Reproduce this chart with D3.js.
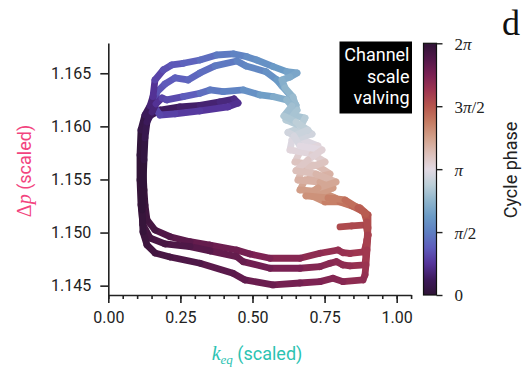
<!DOCTYPE html>
<html><head><meta charset="utf-8">
<script src="https://cdn.jsdelivr.net/npm/d3@7"></script>
<style>body{margin:0;background:#fff} svg{display:block}</style>
</head><body><svg id="c" width="528" height="368"></svg>
<script>
// Trajectory, three cycles: k_eq (scaled), Δp (scaled), cycle phase in turns (0..1 = 0..2π)
const cycle1K = [0.8034,0.8450,0.8935,0.9005,0.8935,0.8866,0.8381,0.8138,0.7965,0.7340,0.6647,0.5607,0.4913,0.4452,0.3526,0.2833,0.2139,0.1619,0.1342,0.1273,
  0.1238,0.1203,0.1168,0.1203,0.1307,0.1793,0.2486,0.3180,0.3873,0.4359,0.4497,0.4150,0.3180,0.2313,0.1793,0.1550,0.1689,0.1966,0.2313,0.2764,
  0.3180,0.3700,0.4463,0.4775,0.5468,0.5849,0.6023,0.6300,0.6508,
  0.6231,0.6820,0.6647,0.6231,0.6751,0.7271,0.6647,0.6474,0.7271,0.7687,0.6820,0.6647,0.7410,0.7861,0.8207,0.8727,0.9005,0.9005];
const cycle1P = [1.15053,1.15062,1.15072,1.14977,1.14883,1.14817,1.14803,1.14811,1.14836,1.14805,1.14758,1.14758,1.14798,1.14836,1.14883,1.14914,1.14961,1.15024,1.15119,1.15260,
  1.15401,1.15589,1.15778,1.15966,1.16079,1.16154,1.16183,1.16197,1.16230,1.16258,1.16220,1.16183,1.16145,1.16117,1.16107,1.16201,1.16324,1.16399,1.16456,1.16437,
  1.16503,1.16569,1.16616,1.16569,1.16515,1.16437,1.16380,1.16296,1.16201,
  1.16117,1.16079,1.15985,1.15943,1.15872,1.15815,1.15759,1.15665,1.15627,1.15552,1.15495,1.15401,1.15382,1.15326,1.15279,1.15232,1.15166,1.15043];
const cycle1Phase = [0.770,0.775,0.780,0.790,0.800,0.810,0.820,0.825,0.830,0.840,0.855,0.870,0.885,0.895,0.910,0.925,0.940,0.960,0.970,0.980,
  0.990,0.998,0.010,0.030,0.050,0.065,0.075,0.085,0.095,0.105,0.115,0.125,0.135,0.145,0.155,0.165,0.175,0.185,0.195,0.205,
  0.220,0.240,0.260,0.270,0.290,0.310,0.330,0.360,0.390,
  0.410,0.430,0.450,0.470,0.490,0.510,0.530,0.550,0.570,0.590,0.610,0.630,0.650,0.670,0.700,0.730,0.760,0.780];

const cycle2K = [0.8970,0.8935,0.8901,0.8381,0.8138,0.7920,0.7687,0.7340,0.6647,0.5607,0.4671,0.4452,0.3526,0.2833,0.1966,0.1446,0.1203,0.1134,0.1099,0.1099,
  0.1134,0.1273,0.1446,0.1550,0.1619,0.1907,0.2198,0.2601,0.3180,0.3759,0.4334,0.4799,0.5146,0.5721,0.6186,0.6543,0.6300,0.6023,0.6127,0.6404,0.6543,
  0.6162,0.6647,0.7063,0.6370,0.6300,0.7063,0.7514,0.6716,0.6578,0.7340,0.7791,0.7063,0.7514,0.8034,0.8450,0.8866,0.8970];
const cycle2P = [1.14930,1.14789,1.14695,1.14686,1.14695,1.14726,1.14711,1.14679,1.14664,1.14664,1.14726,1.14773,1.14827,1.14867,1.14893,1.14949,1.15072,1.15260,1.15495,1.15731,
  1.15966,1.16107,1.16192,1.16280,1.16437,1.16531,1.16578,1.16594,1.16625,1.16672,1.16682,1.16656,1.16625,1.16562,1.16515,1.16503,1.16465,1.16437,1.16362,1.16277,1.16154,
  1.16060,1.16004,1.15928,1.15872,1.15778,1.15740,1.15665,1.15589,1.15495,1.15476,1.15420,1.15345,1.15288,1.15288,1.15250,1.15194,1.15100];
const cycle2Phase = [0.800,0.815,0.825,0.835,0.840,0.845,0.850,0.860,0.875,0.890,0.905,0.910,0.930,0.945,0.955,0.965,0.975,0.985,0.995,0.010,
  0.030,0.060,0.090,0.120,0.150,0.170,0.180,0.200,0.220,0.240,0.260,0.280,0.290,0.310,0.330,0.340,0.350,0.360,0.375,0.390,0.410,
  0.430,0.450,0.470,0.490,0.510,0.530,0.550,0.570,0.590,0.610,0.630,0.650,0.680,0.700,0.725,0.750,0.770];

const cycle3K = [0.9005,0.8970,0.8935,0.8901,0.8831,0.8138,0.7791,0.7340,0.6647,0.5711,0.4740,0.4324,0.3180,0.2139,0.1619,0.1342,0.1203,0.1168,0.1203,0.1238,
  0.1273,0.1342,0.1515,0.1654,0.1862,0.2025,0.2601,0.3180,0.3526,0.3988,0.4681,0.5260,0.5721,0.6186,0.6370,
  0.6092,0.6508,0.6924,0.6439,0.6647,0.7410,0.6924,0.6508,0.7202,0.7895,0.7271,0.6855,0.7618,0.8207,0.8658,0.8935];
const cycle3P = [1.14977,1.14836,1.14695,1.14601,1.14554,1.14538,1.14570,1.14538,1.14525,1.14507,1.14554,1.14617,1.14711,1.14770,1.14808,1.14883,1.15006,1.15213,1.15448,1.15684,
  1.15891,1.16041,1.16136,1.16211,1.16267,1.16249,1.16280,1.16312,1.16343,1.16327,1.16343,1.16296,1.16280,1.16249,1.16192,
  1.16098,1.16041,1.15966,1.15910,1.15815,1.15778,1.15684,1.15582,1.15552,1.15476,1.15420,1.15345,1.15326,1.15307,1.15232,1.15175];
const cycle3Phase = [0.790,0.805,0.820,0.830,0.840,0.855,0.860,0.870,0.885,0.900,0.915,0.925,0.945,0.955,0.965,0.975,0.985,0.995,0.005,0.020,
  0.040,0.060,0.090,0.120,0.150,0.160,0.190,0.220,0.240,0.260,0.290,0.320,0.350,0.380,0.400,
  0.420,0.440,0.460,0.480,0.500,0.520,0.540,0.560,0.580,0.610,0.630,0.650,0.680,0.710,0.740,0.760];

const xTicks = [0, 0.25, 0.5, 0.75, 1.0];
const yTicks = [1.145, 1.150, 1.155, 1.160, 1.165];
const phaseTicks = [0, Math.PI/2, Math.PI, 3*Math.PI/2, 2*Math.PI];
const phaseTickLabels = ["0", "π/2", "π", "3π/2", "2π"];
// twilight_shifted-like colormap stops (0 .. 2π, evenly spaced)
const cmapStops = ["#2f1436","#3d1a5c","#55349a","#5e5cbc","#5e7fc2","#6b9bc6","#8fb5cc","#bccfd8","#e2d9e2",
                   "#dcbfb8","#d2a08a","#c57c63","#b6564d","#9e3550","#7a2153","#521849","#2f1436"];

const kEq = cycle1K.concat(cycle2K, cycle3K);
const deltaP = cycle1P.concat(cycle2P, cycle3P);
const phaseTurns = cycle1Phase.concat(cycle2Phase, cycle3Phase);

const svg = d3.select("#c");
const TXT = "#222";
const x = d3.scaleLinear().domain([0, 1.05]).range([108.3, 411.1]);
const y = d3.scaleLinear().domain([1.14412, 1.16785]).range([295, 43]);
const color = d3.scaleLinear()
  .domain(cmapStops.map((c,i)=> i/(cmapStops.length-1)*2*Math.PI))
  .range(cmapStops).interpolate(d3.interpolateRgb);

// trajectory
const pts = kEq.map((k,i)=>({k, p: deltaP[i], ph: phaseTurns[i]*2*Math.PI}));
const gL = svg.append("g");
for (let i = 0; i < pts.length-1; i++) {
  const a = pts[i], b = pts[i+1];
  gL.append("line")
    .attr("x1", x(a.k)).attr("y1", y(a.p))
    .attr("x2", x(b.k)).attr("y2", y(b.p))
    .attr("stroke", color(a.ph))
    .attr("stroke-width", 6.8)
    .attr("stroke-linecap", "round");
}

// axes
const xAxis = svg.append("g").attr("transform", "translate(0,295)")
  .call(d3.axisBottom(x).tickValues(xTicks).tickFormat(d3.format(".2f")).tickSize(8).tickSizeOuter(0).tickPadding(6));
const xMinor = svg.append("g").attr("transform", "translate(0,295)")
  .call(d3.axisBottom(x).tickValues(d3.range(0, 1.0501, 0.05)).tickFormat("").tickSize(4).tickSizeOuter(0));
xMinor.select(".domain").remove();
const yAxis = svg.append("g").attr("transform", "translate(108.3,0)")
  .call(d3.axisLeft(y).tickValues(yTicks).tickFormat(d3.format(".3f")).tickSize(8).tickSizeOuter(0).tickPadding(9));
[xAxis, yAxis, xMinor].forEach(g => {
  g.selectAll(".domain").attr("stroke", TXT).attr("stroke-width", 1.6);
  g.selectAll(".tick line").attr("stroke", TXT).attr("stroke-width", 1.6);
  g.selectAll(".tick text").attr("fill", TXT).style("font-family", "Roboto").style("font-size", "16px");
});
xAxis.selectAll(".tick text").attr("dy", "0.85em");

// axis labels
const xl = svg.append("text").attr("x", 257).attr("y", 360).attr("text-anchor", "middle")
  .attr("fill", "#2cc3b2").style("font-size", "18px");
xl.append("tspan").text("k").style("font-family", "Liberation Serif").style("font-style", "italic").style("font-size", "20px");
xl.append("tspan").text("eq").style("font-family", "Liberation Serif").style("font-style", "italic").style("font-size", "13px").attr("dy", 4);
xl.append("tspan").text(" (scaled)").style("font-family", "Roboto").attr("dy", -4);

const yl = svg.append("text").attr("transform", "translate(31,171) rotate(-90)").attr("text-anchor", "middle")
  .attr("fill", "#f2447e").style("font-size", "18px");
yl.append("tspan").text("Δ").style("font-family", "Liberation Serif").style("font-size", "20px");
yl.append("tspan").text("p").style("font-family", "Liberation Serif").style("font-style", "italic").style("font-size", "20px");
yl.append("tspan").text(" (scaled)").style("font-family", "Roboto");

// annotation box
svg.append("rect").attr("x", 339.5).attr("y", 41.5).attr("width", 72.5).attr("height", 72).attr("fill", "#000");
["Channel", "scale", "valving"].forEach((t,i) => {
  svg.append("text").attr("x", 409.5).attr("y", 61 + i*21.5).attr("text-anchor", "end")
    .attr("fill", "#fff").style("font-family", "Roboto").style("font-size", "18px").text(t);
});

// colorbar
const cb = d3.scaleLinear().domain([0, 2*Math.PI]).range([295, 43.3]);
const defs = svg.append("defs");
const grad = defs.append("linearGradient").attr("id", "cg").attr("x1", 0).attr("y1", 1).attr("x2", 0).attr("y2", 0);
cmapStops.forEach((c,i) => grad.append("stop").attr("offset", i/(cmapStops.length-1)).attr("stop-color", c));
svg.append("rect").attr("x", 423.5).attr("y", 43.3).attr("width", 13).attr("height", 295-43.3)
  .attr("fill", "url(#cg)").attr("stroke", "#111").attr("stroke-width", 1.2);
const cAxis = svg.append("g").attr("transform", "translate(436.5,0)")
  .call(d3.axisRight(cb).tickValues(phaseTicks).tickFormat(()=>"").tickSize(6).tickSizeOuter(0));
cAxis.select(".domain").remove();
cAxis.selectAll(".tick line").attr("stroke", TXT).attr("stroke-width", 1.4);
cAxis.selectAll(".tick text").each(function(d,i){
  const t = d3.select(this).attr("x", 18).attr("dy", "0.35em").attr("fill", TXT)
    .style("font-family", "Liberation Serif").style("font-size", "17px");
  const parts = phaseTickLabels[i].split(/(π)/).filter(s=>s.length);
  parts.forEach(s => t.append("tspan").text(s).style("font-style", s==="π" ? "italic" : "normal"));
});
svg.append("text").attr("transform", "translate(517,170) rotate(-90)").attr("text-anchor", "middle")
  .attr("fill", TXT).style("font-family", "Roboto").style("font-size", "18px").text("Cycle phase");

// panel label
svg.append("text").attr("x", 502).attr("y", 35).attr("fill", "#111")
  .style("font-family", "Liberation Serif").style("font-size", "36px").text("d");
</script></body></html>
